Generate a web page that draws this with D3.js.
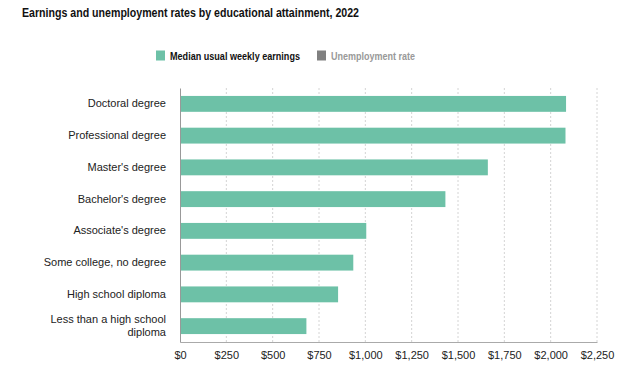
<!DOCTYPE html>
<html>
<head>
<meta charset="utf-8">
<script src="https://cdn.jsdelivr.net/npm/d3@7"></script>
<style>
  body { margin: 0; background: #fff; font-family: "Liberation Sans", Arial, Helvetica, sans-serif; }
  svg { display: block; }
</style>
</head>
<body>
<svg id="chart" width="624" height="384"></svg>
<script>
// data (BLS 2022)
const categories = [
  'Doctoral degree',
  'Professional degree',
  "Master's degree",
  "Bachelor's degree",
  "Associate's degree",
  'Some college, no degree',
  'High school diploma',
  'Less than a high school diploma'
];
const earnings = [2083, 2080, 1661, 1432, 1005, 935, 853, 682];
const xTicks = [0, 250, 500, 750, 1000, 1250, 1500, 1750, 2000, 2250];
const legendItems = ['Median usual weekly earnings', 'Unemployment rate'];

const data = categories.map((c, i) => ({ label: c, value: earnings[i] }));

const W = 624, H = 384;
const m = { top: 88, right: 27, bottom: 42, left: 180 };
const svg = d3.select('#chart');

const x = d3.scaleLinear().domain([0, 2250]).range([m.left, W - m.right]);
const y = d3.scaleBand().domain(categories).range([m.top, H - m.bottom])
  .paddingInner(0.5).paddingOuter(0.25);

// title
svg.append('text')
  .attr('x', 22).attr('y', 16.5)
  .attr('font-size', 12.5).attr('font-weight', 'bold').attr('fill', '#111')
  .attr('textLength', 337).attr('lengthAdjust', 'spacingAndGlyphs')
  .text('Earnings and unemployment rates by educational attainment, 2022');

// legend
const legendColors = ['#6dc1a7', '#808080'];
const legendText = ['#111', '#999'];
const lx = [156, 317];
const lw = [130, 84];
legendItems.forEach((t, i) => {
  svg.append('rect').attr('x', lx[i]).attr('y', 50.5).attr('width', 9).attr('height', 10)
    .attr('fill', legendColors[i]);
  svg.append('text').attr('x', lx[i] + 14).attr('y', 56).attr('dy', '0.35em')
    .attr('font-size', 11.5).attr('font-weight', 'bold').attr('fill', legendText[i])
    .attr('textLength', lw[i]).attr('lengthAdjust', 'spacingAndGlyphs')
    .text(t);
});

// grid
svg.append('g')
  .selectAll('line')
  .data(xTicks.slice(1))
  .join('line')
  .attr('x1', d => x(d)).attr('x2', d => x(d))
  .attr('y1', m.top).attr('y2', H - m.bottom)
  .attr('stroke', '#d4d4d4').attr('stroke-dasharray', '2,2');

// bars
svg.append('g')
  .selectAll('rect')
  .data(data)
  .join('rect')
  .attr('x', x(0))
  .attr('y', d => y(d.label))
  .attr('width', d => x(d.value) - x(0))
  .attr('height', y.bandwidth())
  .attr('fill', '#6dc1a7');

// x axis
const xAxis = svg.append('g')
  .attr('transform', `translate(0,${H - m.bottom})`)
  .call(d3.axisBottom(x).tickValues(xTicks).tickSize(0).tickPadding(9)
    .tickFormat(d => '$' + d3.format(',')(d)));
xAxis.select('.domain').attr('stroke', '#aaa');
xAxis.selectAll('text').attr('font-size', 11).attr('fill', '#222')
  .attr('font-family', '"Liberation Sans", Arial, sans-serif');

// y axis
const yAxis = svg.append('g')
  .attr('transform', `translate(${m.left},0)`)
  .call(d3.axisLeft(y).tickSize(0).tickPadding(14));
yAxis.select('.domain').attr('stroke', '#999');
yAxis.selectAll('text').attr('font-size', 11).attr('fill', '#222')
  .attr('font-family', '"Liberation Sans", Arial, sans-serif');

// wrap long labels
yAxis.selectAll('.tick text').each(function (d) {
  if (d.length > 24) {
    const t = d3.select(this);
    const xPos = t.attr('x');
    t.text(null);
    t.append('tspan').attr('x', xPos).attr('dy', '-0.3em').text('Less than a high school');
    t.append('tspan').attr('x', xPos).attr('dy', '1.2em').text('diploma');
  }
});
</script>
</body>
</html>
